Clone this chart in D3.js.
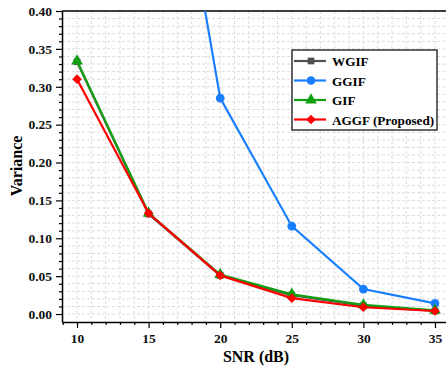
<!DOCTYPE html>
<html>
<head>
<meta charset="utf-8">
<script src="https://cdn.jsdelivr.net/npm/d3@7"></script>
<style>
  body { margin: 0; background: #fff; }
  svg text { font-family: "Liberation Serif", "Times New Roman", serif; font-weight: bold; }
</style>
</head>
<body>
<div id="chart"></div>
<script>
// data
var snr = [10, 15, 20, 25, 30, 35];
var wgif = [0.333, 0.132, 0.051, 0.025, 0.011, 0.004];
var ggif = [1.40, 0.83, 0.285, 0.116, 0.033, 0.014];
var gif = [0.334, 0.133, 0.052, 0.026, 0.012, 0.005];
var aggf = [0.310, 0.133, 0.051, 0.021, 0.009, 0.004];
var seriesNames = ['WGIF', 'GGIF', 'GIF', 'AGGF (Proposed)'];
var xTicks = [10, 15, 20, 25, 30, 35];
var yTicks = [0, 0.05, 0.10, 0.15, 0.20, 0.25, 0.30, 0.35, 0.40];

var width = 446, height = 369;
var pLeft = 62, pTop = 11, pRight = 446, pBottom = 322;

var svg = d3.select('#chart').append('svg')
    .attr('width', width)
    .attr('height', height);

var x = d3.scaleLinear().domain([8.95, 35.77]).range([pLeft, pRight]);
var y = d3.scaleLinear().domain([-0.0105, 0.40]).range([pBottom, pTop]);

svg.append('defs').append('clipPath').attr('id', 'plotclip')
  .append('rect')
    .attr('x', pLeft).attr('y', pTop)
    .attr('width', pRight - pLeft).attr('height', pBottom - pTop);

// grid, every 1 dB and every 0.01
var grid = svg.append('g');
grid.selectAll('line.gx')
    .data(d3.range(9, 36))
    .enter().append('line')
    .attr('x1', function(d) { return x(d); })
    .attr('x2', function(d) { return x(d); })
    .attr('y1', pTop).attr('y2', pBottom)
    .attr('stroke', '#dcdcdc')
    .attr('stroke-dasharray', '3,2');
grid.selectAll('line.gy')
    .data(d3.range(0, 41).map(function(i) { return i / 100; }))
    .enter().append('line')
    .attr('x1', pLeft).attr('x2', pRight)
    .attr('y1', function(d) { return y(d); })
    .attr('y2', function(d) { return y(d); })
    .attr('stroke', '#dcdcdc')
    .attr('stroke-dasharray', '3,2');

// axes
svg.append('g')
    .attr('transform', 'translate(0,' + pBottom + ')')
    .call(d3.axisBottom(x).tickValues(xTicks).tickSize(6).tickPadding(5).tickSizeOuter(0));
svg.append('g')
    .attr('transform', 'translate(0,' + pBottom + ')')
    .call(d3.axisBottom(x).tickValues(d3.range(9, 36).filter(function(d) { return d % 5 !== 0; }))
      .tickSize(3).tickFormat('').tickSizeOuter(0))
    .select('.domain').remove();

svg.append('g')
    .attr('transform', 'translate(' + pLeft + ',0)')
    .call(d3.axisLeft(y).tickValues(yTicks).tickFormat(d3.format('.2f')).tickSize(6).tickPadding(4).tickSizeOuter(0));
svg.append('g')
    .attr('transform', 'translate(' + pLeft + ',0)')
    .call(d3.axisLeft(y).tickValues(d3.range(0, 41).filter(function(i) { return i % 5 !== 0; }).map(function(i) { return i / 100; }))
      .tickSize(3).tickFormat('').tickSizeOuter(0))
    .select('.domain').remove();

svg.selectAll('.domain').attr('stroke', '#000').attr('stroke-width', 1.5);
svg.selectAll('.tick line').attr('stroke', '#000').attr('stroke-width', 1.2);
svg.selectAll('.tick text').attr('font-size', 13.5).attr('fill', '#111');

// top border
svg.append('line')
    .attr('x1', pLeft).attr('x2', pRight)
    .attr('y1', pTop).attr('y2', pTop)
    .attr('stroke', '#000').attr('stroke-width', 1.5);

// axis titles
svg.append('text')
    .attr('x', (pLeft + pRight) / 2 + 2)
    .attr('y', 362)
    .attr('text-anchor', 'middle')
    .attr('font-size', 16)
    .text('SNR (dB)');
svg.append('text')
    .attr('transform', 'translate(22,166) rotate(-90)')
    .attr('text-anchor', 'middle')
    .attr('font-size', 16)
    .text('Variance');

// series
var diamond = { draw: function(ctx, size) {
  var r = Math.sqrt(size) / 1.6;
  ctx.moveTo(0, -r); ctx.lineTo(r, 0); ctx.lineTo(0, r); ctx.lineTo(-r, 0); ctx.closePath();
} };
var series = [
  { name: seriesNames[0], values: wgif, color: '#505050', shape: d3.symbolSquare, size: 45 },
  { name: seriesNames[1], values: ggif, color: '#1a7fff', shape: d3.symbolCircle, size: 60 },
  { name: seriesNames[2], values: gif, color: '#12a012', shape: d3.symbolTriangle, size: 60 },
  { name: seriesNames[3], values: aggf, color: '#ff0000', shape: diamond, size: 60 }
];

var line = d3.line()
    .x(function(d, i) { return x(snr[i]); })
    .y(function(d) { return y(d); });

var plot = svg.append('g').attr('clip-path', 'url(#plotclip)');

series.forEach(function(s) {
  var g = plot.append('g');
  g.append('path')
      .datum(s.values)
      .attr('d', line)
      .attr('fill', 'none')
      .attr('stroke', s.color)
      .attr('stroke-width', 2.2);
  g.selectAll('path.m')
      .data(s.values)
      .enter().append('path')
      .attr('class', 'm')
      .attr('transform', function(d, i) { return 'translate(' + x(snr[i]) + ',' + y(d) + ')'; })
      .attr('d', d3.symbol().type(s.shape).size(s.size))
      .attr('fill', s.color);
});

// legend
var lg = svg.append('g').attr('transform', 'translate(292,50)');
lg.append('rect')
    .attr('width', 145).attr('height', 80)
    .attr('fill', '#fff')
    .attr('stroke', '#000').attr('stroke-width', 1.2);
series.forEach(function(s, i) {
  var row = lg.append('g').attr('transform', 'translate(0,' + (11 + i * 19.5) + ')');
  row.append('line')
      .attr('x1', 2).attr('x2', 34)
      .attr('stroke', s.color).attr('stroke-width', 2.2);
  row.append('path')
      .attr('transform', 'translate(19,0)')
      .attr('d', d3.symbol().type(s.shape).size(s.size))
      .attr('fill', s.color);
  row.append('text')
      .attr('x', 40).attr('y', 5)
      .attr('font-size', 13.2)
      .text(s.name);
});
</script>
</body>
</html>
